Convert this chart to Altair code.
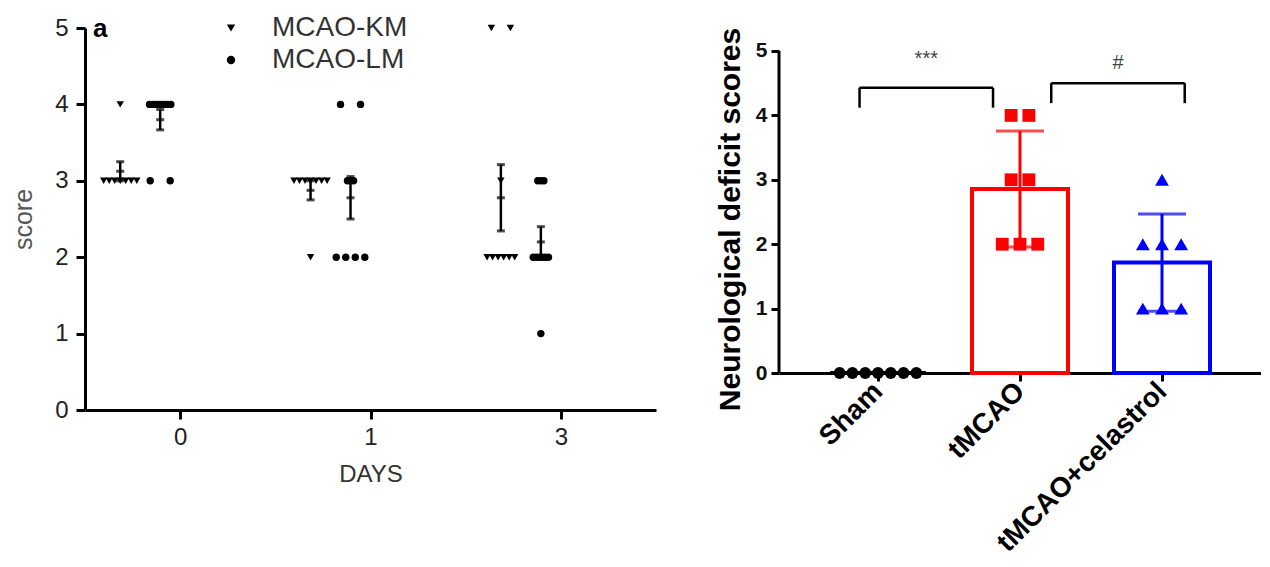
import json
from collections import Counter

import altair as alt
import numpy as np
import pandas as pd

# ---------------- Panel a data (scores per day) ----------------
days = ["0", "1", "3"]
series_names = ["MCAO-KM", "MCAO-LM"]
km_day0 = [3, 3, 3, 3, 3, 3, 3, 4]
km_day1 = [3, 3, 3, 3, 3, 3, 3, 2]
km_day3 = [5, 5, 3, 2, 2, 2, 2, 2, 2]
lm_day0 = [4, 4, 4, 4, 4, 4, 4, 4, 3, 3]
lm_day1 = [4, 4, 3, 3, 3, 2, 2, 2, 2]
lm_day3 = [3, 3, 3, 2, 2, 2, 2, 2, 2, 1]

# ---------------- Panel b data ----------------
groups = ["Sham", "tMCAO", "tMCAO+celastrol"]
sham_scores = [0, 0, 0, 0, 0, 0, 0]
tmcao_scores = [4, 4, 3, 3, 2, 2, 2]
celastrol_scores = [3, 2, 2, 2, 1, 1, 1]
sig_pairs = [("Sham", "tMCAO"), ("tMCAO", "tMCAO+celastrol")]
sig_labels = ["***", "#"]
score_ticks = [0, 1, 2, 3, 4, 5]

# ---------------- layout / style helpers ----------------
series_shift = {"MCAO-KM": -0.315, "MCAO-LM": -0.105}


def km_spacing(n):
    return 0.0 if n == 1 else (0.1 if n == 2 else 0.029)


def lm_spacing(n):
    if n == 2:
        return 0.105
    if n == 4:
        return 0.05
    return 0.016


def swarm(values, spacing_fn):
    counts = Counter(values)
    seen = Counter()
    offs = []
    for v in values:
        n = counts[v]
        offs.append((seen[v] - (n - 1) / 2) * spacing_fn(n))
        seen[v] += 1
    return offs


rows = []
stat_rows = []
for di, (d, km, lm) in enumerate(zip(days, [km_day0, km_day1, km_day3], [lm_day0, lm_day1, lm_day3])):
    for s, vals, fn in [("MCAO-KM", km, km_spacing), ("MCAO-LM", lm, lm_spacing)]:
        c = di + series_shift[s]
        for v, o in zip(vals, swarm(vals, fn)):
            rows.append({"day": d, "series": s, "score": v, "x": c + o})
        arr = np.array(vals, dtype=float)
        m = arr.mean()
        sem = arr.std(ddof=1) / np.sqrt(len(arr))
        stat_rows.append({"day": d, "series": s, "x": c, "mean": m, "lo": m - sem, "hi": m + sem})
pts_a = pd.DataFrame(rows)
stats_a = pd.DataFrame(stat_rows)

FONT = "Liberation Sans, Arial, sans-serif"

xa = alt.X(
    "x:Q",
    scale=alt.Scale(domain=[-0.5, 2.5], nice=False, zero=False),
    axis=alt.Axis(
        values=[0, 1, 2],
        labelExpr=json.dumps(days) + "[datum.value]",
        title="DAYS",
        grid=False,
        domainColor="black",
        domainWidth=3,
        tickColor="black",
        tickWidth=3,
        tickSize=9,
        labelFontSize=24,
        labelColor="#222",
        labelPadding=6,
        titleFontSize=24,
        titleFontWeight="normal",
        titleColor="#333",
        titlePadding=13,
        labelFont=FONT,
        titleFont=FONT,
    ),
)


def ya(field):
    return alt.Y(
        field,
        scale=alt.Scale(domain=[0, 5], nice=False),
        axis=alt.Axis(
            values=score_ticks,
            title="score",
            grid=False,
            domainColor="black",
            domainWidth=3,
            tickColor="black",
            tickWidth=3,
            tickSize=9,
            labelFontSize=24,
            labelColor="#222",
            labelPadding=8,
            titleFontSize=25,
            titleFontWeight="normal",
            titleColor="#555",
            titlePadding=18,
            labelFont=FONT,
            titleFont=FONT,
        ),
    )


points_a = alt.Chart(pts_a).mark_point(filled=True, opacity=1, color="black", size=55).encode(
    x=xa,
    y=ya("score:Q"),
    shape=alt.Shape(
        "series:N",
        scale=alt.Scale(domain=series_names, range=["triangle-down", "circle"]),
        legend=alt.Legend(
            title=None,
            orient="none",
            legendX=132,
            legendY=-14,
            labelFontSize=28,
            labelColor="#333",
            labelFont=FONT,
            symbolSize=70,
            symbolFillColor="black",
            symbolStrokeColor="black",
            symbolStrokeWidth=0,
            labelOffset=27,
            rowPadding=4,
        ),
    ),
)

err_a = alt.Chart(stats_a).mark_rule(color="black", strokeWidth=2.5).encode(
    x=xa, y=ya("lo:Q"), y2="hi:Q"
)
caps_a = (
    alt.Chart(stats_a)
    .transform_fold(["lo", "hi", "mean"], as_=["k", "v"])
    .mark_tick(orient="horizontal", color="black", size=8, thickness=3)
    .encode(x=xa, y=ya("v:Q"))
)
letter_a = alt.Chart(pd.DataFrame({"t": ["a"]})).mark_text(
    align="left", baseline="alphabetic", fontSize=26, fontWeight="bold", font=FONT, color="black"
).encode(text="t:N", x=alt.value(8), y=alt.value(9))

panel_a = alt.layer(points_a, err_a, caps_a, letter_a).properties(width=571, height=382)

# ---------------- Panel b ----------------
group_spacing = {"Sham": 0.09, "tMCAO": 0.125, "tMCAO+celastrol": 0.135}
rows = []
stat_rows = []
for gi, (g, vals) in enumerate(zip(groups, [sham_scores, tmcao_scores, celastrol_scores])):
    sp = group_spacing[g]
    for v, o in zip(vals, swarm(vals, lambda n, sp=sp: sp)):
        rows.append({"group": g, "score": v, "x": gi + o})
    arr = np.array(vals, dtype=float)
    m = arr.mean()
    sd = arr.std(ddof=1)
    stat_rows.append({"group": g, "x": gi, "mean": m, "lo": m - sd, "hi": m + sd})
pts_b = pd.DataFrame(rows)
stats_b = pd.DataFrame(stat_rows)

# bracket geometry (annotation style)
bracket_style = [
    {"left": -0.13, "right": -0.19, "top": 4.43, "leg": 0.31, "label_y": 4.87},
    {"left": 0.22, "right": 0.16, "top": 4.5, "leg": 0.31, "label_y": 4.82},
]
seg_rows = []
lab_rows = []
for (g1, g2), lab, st in zip(sig_pairs, sig_labels, bracket_style):
    x1 = groups.index(g1) + st["left"]
    x2 = groups.index(g2) + st["right"]
    t = st["top"]
    b = t - st["leg"]
    seg_rows += [
        {"x": x1, "x2": x2, "y": t, "y2": t},
        {"x": x1, "x2": x1, "y": t, "y2": b},
        {"x": x2, "x2": x2, "y": t, "y2": b},
    ]
    lab_rows.append({"x": (x1 + x2) / 2, "y": st["label_y"], "label": lab})
segs = pd.DataFrame(seg_rows)
labs = pd.DataFrame(lab_rows)

BFONT = "Liberation Sans, Arial, sans-serif"
color_scale = alt.Scale(domain=groups, range=["black", "#ff0000", "#0000ff"])

xb = alt.X(
    "x:Q",
    scale=alt.Scale(domain=[-0.662, 2.662], nice=False, zero=False),
    axis=alt.Axis(
        values=[0, 1, 2],
        labelExpr=json.dumps(groups) + "[datum.value]",
        title=None,
        grid=False,
        domainColor="black",
        domainWidth=3,
        tickColor="black",
        tickWidth=3,
        tickSize=8,
        labelAngle=-45,
        labelAlign="right",
        labelBaseline="middle",
        labelFontSize=28,
        labelFontWeight="bold",
        labelColor="black",
        labelPadding=6,
        labelFont=BFONT,
        labelOverlap=False,
        labelLimit=400,
    ),
)

# extra headroom above the y-axis top so panel b sits lower than panel a
b_top = max(score_ticks) + 0.357


def yb(field):
    return alt.Y(
        field,
        scale=alt.Scale(domain=[0, b_top], nice=False),
        axis=alt.Axis(
            values=score_ticks,
            title="Neurological deficit scores",
            titleY=191,
            grid=False,
            domain=False,
            tickColor="black",
            tickWidth=3,
            tickSize=8,
            labelFontSize=21,
            labelFontWeight="bold",
            labelColor="#111",
            labelPadding=4,
            titleFontSize=30,
            titleFontWeight="bold",
            titleColor="black",
            titlePadding=10,
            labelFont=BFONT,
            titleFont=BFONT,
        ),
    )


axis_line_b = alt.Chart(pd.DataFrame({"y0": [min(score_ticks)], "y1": [max(score_ticks)]})).mark_rule(
    color="black", strokeWidth=3
).encode(x=alt.value(0), y=yb("y0:Q"), y2="y1:Q")

bars_b = alt.Chart(stats_b).mark_bar(size=96, fill="white", strokeWidth=4).encode(
    x=xb, y=yb("mean:Q"), stroke=alt.Stroke("group:N", scale=color_scale, legend=None)
)
err_b = alt.Chart(stats_b).mark_rule(strokeWidth=3).encode(
    x=xb, y=yb("lo:Q"), y2="hi:Q", color=alt.Color("group:N", scale=color_scale, legend=None)
)
caps_b = (
    alt.Chart(stats_b)
    .transform_fold(["lo", "hi"], as_=["k", "v"])
    .mark_tick(orient="horizontal", size=48, thickness=3)
    .encode(x=xb, y=yb("v:Q"), color=alt.Color("group:N", scale=color_scale, legend=None))
)
points_b = alt.Chart(pts_b).mark_point(filled=True, opacity=1).encode(
    x=xb,
    y=yb("score:Q"),
    color=alt.Color("group:N", scale=color_scale, legend=None),
    shape=alt.Shape(
        "group:N", scale=alt.Scale(domain=groups, range=["circle", "square", "triangle-up"]), legend=None
    ),
    size=alt.Size("group:N", scale=alt.Scale(domain=groups, range=[140, 190, 170]), legend=None),
)
brackets_b = alt.Chart(segs).mark_rule(color="black", strokeWidth=2.5).encode(
    x=xb, x2="x2:Q", y=yb("y:Q"), y2="y2:Q"
)
labels_b = alt.Chart(labs).mark_text(fontSize=20, color="#444", font=BFONT).encode(
    x=xb, y=yb("y:Q"), text="label:N"
)

panel_b = alt.layer(axis_line_b, bars_b, err_b, caps_b, points_b, brackets_b, labels_b).properties(
    width=482,
    height=322 + 23,
)

chart = (
    alt.hconcat(panel_a, panel_b, spacing=59)
    .resolve_scale(shape="independent", color="independent", size="independent", stroke="independent")
    .resolve_legend(shape="independent")
    .properties(padding={"left": 3, "top": 6, "right": 0, "bottom": 0})
    .configure_view(stroke=None)
)

chart.save("out.html", embed_options={"renderer": "svg", "actions": False})
